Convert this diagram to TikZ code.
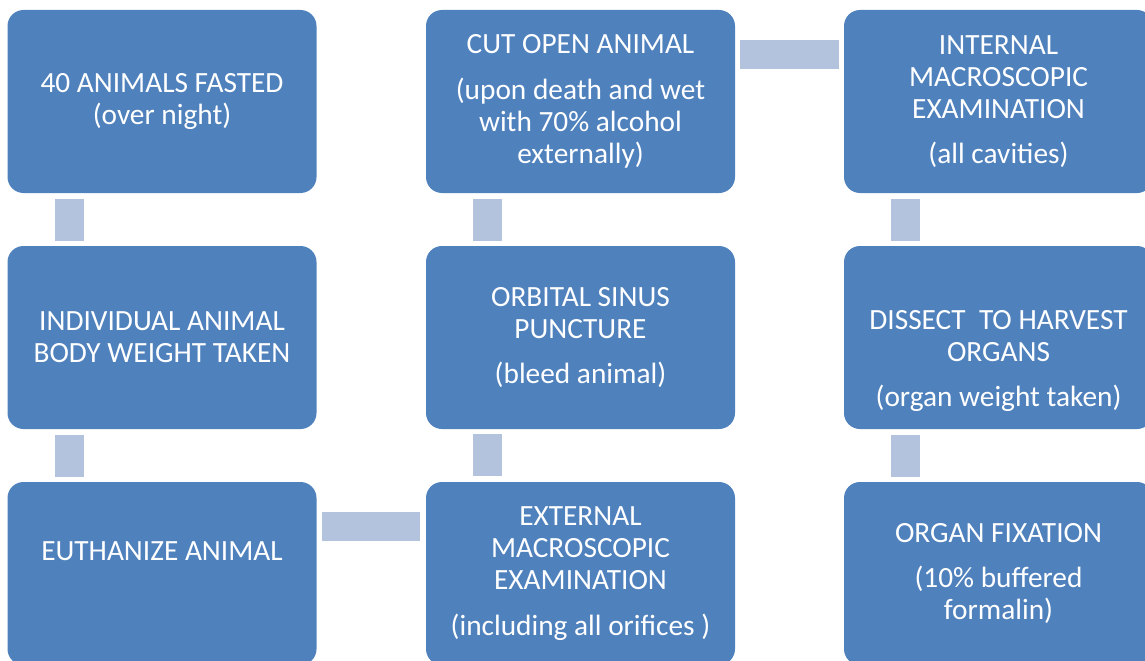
\documentclass[tikz,border=0pt]{standalone}
\usepackage{fontspec}
\setmainfont{Carlito}
\definecolor{boxblue}{HTML}{4F81BD}
\definecolor{barblue}{HTML}{B3C2DD}
\begin{document}
\begin{tikzpicture}[x=0.75pt,y=-0.75pt,
        stepbox/.style={fill=boxblue, rounded corners=12pt, minimum width=231.75pt, minimum height=137.25pt, inner sep=0pt, outer sep=0pt, text=white, align=center, font=\fontsize{22}{24}\selectfont},
        steptext/.style={text=white, align=center, font=\fontsize{22}{24}\selectfont},
        link/.style={barblue, line width=21.75pt}]
            \useasboundingbox (0,0) rectangle (1145,660);
            \clip (0,0) rectangle (1145,660);
            \node[stepbox] (fasted) at (162,101.5) {40 ANIMALS FASTED\\(over night)};
            \node[stepbox] (weight) at (162,337.5) {INDIVIDUAL ANIMAL\\BODY WEIGHT TAKEN};
            \node[stepbox] (euth) at (162,573.5) {};
            \node[steptext] (euthtext) at (162,551) {EUTHANIZE ANIMAL};
            \node[stepbox] (external) at (580.5,573.5) {EXTERNAL\\MACROSCOPIC\\EXAMINATION\\[10pt](including all orifices )};
            \node[stepbox] (bleed) at (580.5,337.5) {ORBITAL SINUS\\PUNCTURE\\[10pt](bleed animal)};
            \node[stepbox] (cut) at (580.5,101.5) {CUT OPEN ANIMAL\\[10pt](upon death and wet\\with 70\% alcohol\\externally)};
            \node[stepbox] (internal) at (998.5,101.5) {INTERNAL\\MACROSCOPIC\\EXAMINATION\\[10pt](all cavities)};
            \node[stepbox] (dissect) at (998.5,337.5) {};
            \node[steptext] (dissecttext) at (998.5,361) {DISSECT\ \ TO HARVEST\\ORGANS\\[10pt](organ weight taken)};
            \node[stepbox] (fixation) at (998.5,573.5) {ORGAN FIXATION\\[10pt](10\% buffered\\formalin)};
            \draw[link] ([shift={(61.5,6)}]fasted.south west) -- ([shift={(61.5,-5)}]weight.north west);
            \draw[link] ([shift={(61.5,6)}]weight.south west) -- ([shift={(61.5,-5)}]euth.north west);
            \draw[link] ([shift={(5,44.5)}]euth.north east) -- ([shift={(-6,44.5)}]external.north west);
            \draw[link] ([shift={(61.5,-6)}]external.north west) -- ([shift={(61.5,5)}]bleed.south west);
            \draw[link] ([shift={(61.5,-5)}]bleed.north west) -- ([shift={(61.5,6)}]cut.south west);
            \draw[link] ([shift={(5,44.5)}]cut.north east) -- ([shift={(-5,44.5)}]internal.north west);
            \draw[link] ([shift={(61.5,6)}]internal.south west) -- ([shift={(61.5,-5)}]dissect.north west);
            \draw[link] ([shift={(61.5,6)}]dissect.south west) -- ([shift={(61.5,-5)}]fixation.north west);
        \end{tikzpicture}
\end{document}
